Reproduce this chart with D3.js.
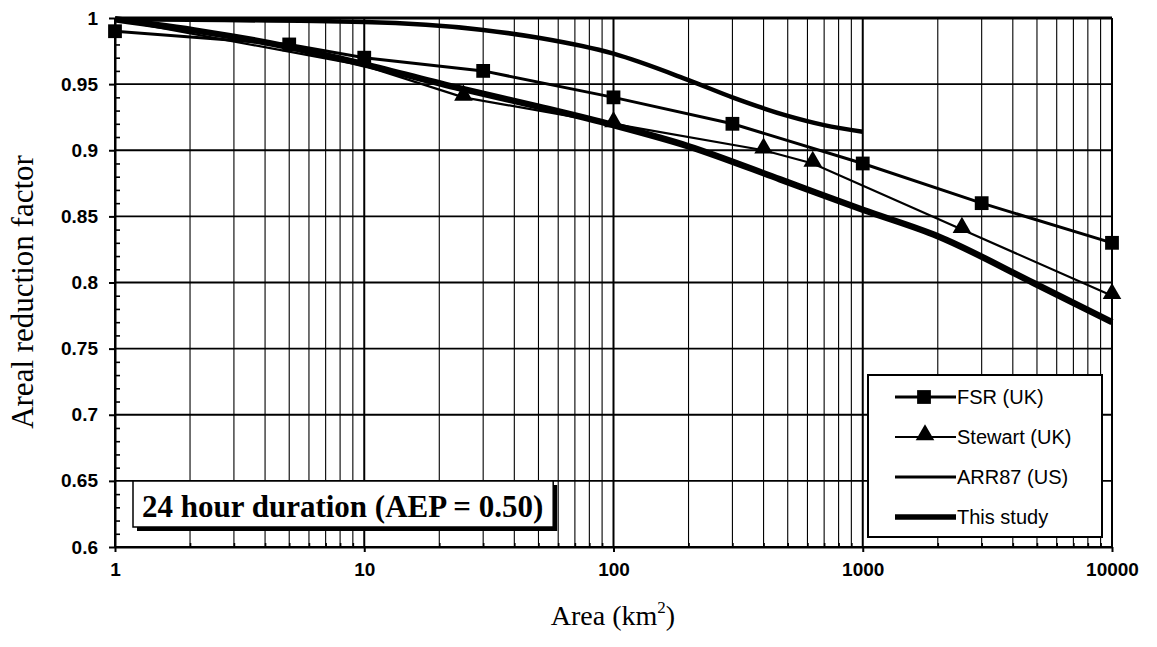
<!DOCTYPE html>
<html><head><meta charset="utf-8">
<script src="https://cdn.jsdelivr.net/npm/d3@7"></script>
<style>body{margin:0;background:#fff}</style>
</head><body><svg id="c" width="1157" height="647"></svg>
<script>
// ---- data ----
const xTicks = [1, 10, 100, 1000, 10000];
const xTickLabels = ["1", "10", "100", "1000", "10000"];
const yTicks = [0.6, 0.65, 0.7, 0.75, 0.8, 0.85, 0.9, 0.95, 1];
const yTickLabels = ["0.6", "0.65", "0.7", "0.75", "0.8", "0.85", "0.9", "0.95", "1"];

const fsrArea = [1, 5, 10, 30, 100, 300, 1000, 3000, 10000];
const fsrArf  = [0.99, 0.98, 0.97, 0.96, 0.94, 0.92, 0.89, 0.86, 0.83];

const stewartArea   = [1, 10, 25, 100, 400, 630, 2500, 10000];
const stewartArf    = [0.999, 0.964, 0.94, 0.92, 0.90, 0.89, 0.84, 0.79];
const stewartMarked = [false, false, true, true, true, true, true, true];

const arrArea = [1, 10, 30, 50, 100, 200, 300, 500, 700, 1000];
const arrArf  = [0.999, 0.997, 0.991, 0.985, 0.973, 0.953, 0.940, 0.926, 0.919, 0.914];

const studyArea = [1, 5, 10, 24, 50, 100, 200, 466, 1000, 2000, 4800, 10000];
const studyArf  = [0.999, 0.978, 0.965, 0.947, 0.933, 0.919, 0.903, 0.878, 0.855, 0.835, 0.80, 0.77];

const seriesNames = ["FSR (UK)", "Stewart (UK)", "ARR87 (US)", "This study"];
const annotation = "24 hour duration (AEP = 0.50)";
const xTitle = "Area (km";
const yTitle = "Areal reduction factor";

// ---- layout ----
const L = 115, R = 1112, T = 18, B = 547;
const svg = d3.select("#c");
const x = d3.scaleLog().domain([1, 10000]).range([L, R]);
const y = d3.scaleLinear().domain([0.6, 1]).range([B, T]);

const minorX = [];
[1, 10, 100, 1000].forEach(d => { for (let k = 2; k <= 9; k++) minorX.push(d * k); });
const minorY = d3.range(61, 100).map(v => v / 100).filter(v => Math.round(v * 100) % 5 !== 0);

// grid
const g = svg.append("g");
g.selectAll(".vmin").data(minorX).join("line")
  .attr("x1", d => x(d)).attr("x2", d => x(d)).attr("y1", y(0.6)).attr("y2", y(1))
  .attr("stroke", "#000").attr("stroke-width", 1.1);
g.selectAll(".vmaj").data(xTicks).join("line")
  .attr("x1", d => x(d)).attr("x2", d => x(d)).attr("y1", y(0.6)).attr("y2", y(1))
  .attr("stroke", "#000").attr("stroke-width", 2);
g.selectAll(".hmaj").data(yTicks).join("line")
  .attr("x1", L).attr("x2", R).attr("y1", d => y(d)).attr("y2", d => y(d))
  .attr("stroke", "#000").attr("stroke-width", 1.8);
svg.append("line").attr("x1", L).attr("x2", R).attr("y1", y(1)).attr("y2", y(1))
  .attr("stroke", "#000").attr("stroke-width", 3);

// axes
const fontSans = "'Liberation Sans', Arial, sans-serif";
const fontSerif = "'Liberation Serif', 'Times New Roman', serif";
function styleAxis(sel) {
  sel.select(".domain").attr("stroke", "#000").attr("stroke-width", 2);
  sel.selectAll(".tick line").attr("stroke", "#000").attr("stroke-width", 2);
  sel.selectAll("text").attr("font-family", fontSans).attr("font-size", 19)
     .attr("font-weight", "bold").attr("fill", "#000");
}
const yAxis = svg.append("g").attr("transform", `translate(${L},0)`)
  .call(d3.axisLeft(y).tickValues(yTicks).tickFormat((d, i) => yTickLabels[i]).tickSize(6).tickPadding(11).tickSizeOuter(0));
styleAxis(yAxis);
const yMinor = svg.append("g").attr("transform", `translate(${L},0)`)
  .call(d3.axisRight(y).tickValues(minorY).tickFormat("").tickSize(5).tickSizeOuter(0));
yMinor.select(".domain").remove();
yMinor.selectAll(".tick line").attr("stroke", "#000").attr("stroke-width", 1.6);

const xAxis = svg.append("g").attr("transform", `translate(0,${B})`)
  .call(d3.axisBottom(x).tickValues(xTicks).tickFormat((d, i) => xTickLabels[i]).tickSize(5).tickPadding(11).tickSizeOuter(0));
styleAxis(xAxis);
const xMinor = svg.append("g").attr("transform", `translate(0,${B})`)
  .call(d3.axisTop(x).tickValues(minorX).tickFormat("").tickSize(4).tickSizeOuter(0));
xMinor.select(".domain").remove();
xMinor.selectAll(".tick line").attr("stroke", "#000").attr("stroke-width", 1.6);

// series
const zip = (a, b) => a.map((v, i) => [v, b[i]]);
const lineLin = d3.line().x(d => x(d[0])).y(d => y(d[1]));
const lineSmooth = d3.line().x(d => x(d[0])).y(d => y(d[1])).curve(d3.curveMonotoneX);

svg.append("path").datum(zip(arrArea, arrArf)).attr("d", lineSmooth)
  .attr("fill", "none").attr("stroke", "#000").attr("stroke-width", 4.5);
svg.append("path").datum(zip(stewartArea, stewartArf)).attr("d", lineLin)
  .attr("fill", "none").attr("stroke", "#000").attr("stroke-width", 2.2);
svg.append("path").datum(zip(studyArea, studyArf)).attr("d", lineSmooth)
  .attr("fill", "none").attr("stroke", "#000").attr("stroke-width", 6.5);
svg.append("path").datum(zip(fsrArea, fsrArf)).attr("d", lineLin)
  .attr("fill", "none").attr("stroke", "#000").attr("stroke-width", 3);

const sq = d3.symbol().type(d3.symbolSquare).size(190);
const tri = d3.symbol().type(d3.symbolTriangle).size(150);
svg.selectAll(".fsr").data(zip(fsrArea, fsrArf)).join("path")
  .attr("d", sq).attr("transform", d => `translate(${x(d[0])},${y(d[1])})`).attr("fill", "#000");
svg.selectAll(".stw").data(zip(stewartArea, stewartArf).filter((d, i) => stewartMarked[i])).join("path")
  .attr("d", tri).attr("transform", d => `translate(${x(d[0])},${y(d[1]) - 2})`).attr("fill", "#000");

// annotation box
const ann = svg.append("g");
const annShadow = ann.append("rect").attr("fill", "#000");
const annRect = ann.append("rect").attr("fill", "#fff").attr("stroke", "#000").attr("stroke-width", 1.5);
const annText = ann.append("text").attr("x", 142).attr("y", 517)
  .attr("font-family", fontSerif).attr("font-weight", "bold").attr("font-size", 31).text(annotation);
const tw = annText.node().getComputedTextLength();
annRect.attr("x", 133).attr("y", 481).attr("width", tw + 19).attr("height", 46);
annShadow.attr("x", 137).attr("y", 485).attr("width", tw + 19).attr("height", 46);

// legend
const lg = svg.append("g");
lg.append("rect").attr("x", 868).attr("y", 375).attr("width", 234).attr("height", 162)
  .attr("fill", "#fff").attr("stroke", "#000").attr("stroke-width", 2);
const lw = [3, 2.2, 3, 5.5];
seriesNames.forEach((name, i) => {
  const cy = 397 + i * 40;
  lg.append("line").attr("x1", 895).attr("x2", 956).attr("y1", cy).attr("y2", cy)
    .attr("stroke", "#000").attr("stroke-width", lw[i]);
  if (i === 0) lg.append("path").attr("d", sq).attr("transform", `translate(924,${cy})`).attr("fill", "#000");
  if (i === 1) lg.append("path").attr("d", tri).attr("transform", `translate(925,${cy - 2})`).attr("fill", "#000");
  lg.append("text").attr("x", 957).attr("y", cy).attr("dy", "0.35em")
    .attr("font-family", fontSans).attr("font-size", 20).attr("fill", "#000").text(name);
});

// axis titles
const xt = svg.append("text").attr("x", 613).attr("y", 625).attr("text-anchor", "middle")
  .attr("font-family", fontSerif).attr("font-size", 28).attr("fill", "#000");
xt.append("tspan").text(xTitle);
xt.append("tspan").attr("font-size", 17).attr("dy", -12).text("2");
xt.append("tspan").attr("dy", 12).text(")");
svg.append("text").attr("transform", "translate(33,292) rotate(-90)").attr("text-anchor", "middle")
  .attr("font-family", fontSerif).attr("font-size", 31).attr("fill", "#000").text(yTitle);
</script></body></html>
